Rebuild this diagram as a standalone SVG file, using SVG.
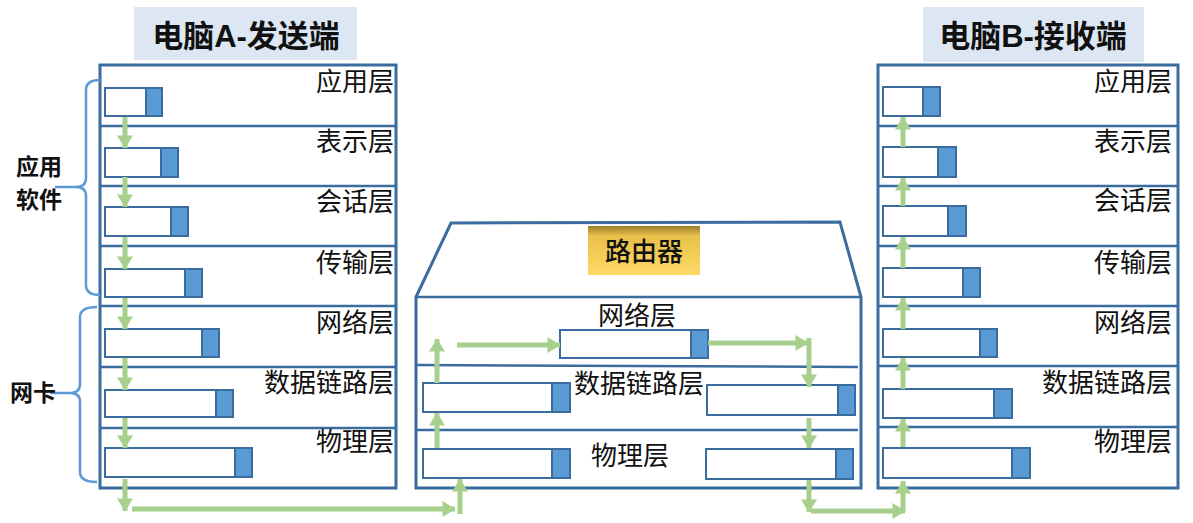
<svg xmlns="http://www.w3.org/2000/svg" width="1193" height="523" viewBox="0 0 1193 523">
<style>
.frame{fill:#fff;stroke:#3b6c9e;stroke-width:3}
.div{stroke:#3b6c9e;stroke-width:2.5;fill:none}
.pw{fill:#fff;stroke:#3b6c9e;stroke-width:2}
.pb{fill:#5b9bd5;stroke:#3b6c9e;stroke-width:2}
.title{fill:#dce7f3}
.tt{font-family:"Liberation Sans","Noto Sans CJK SC",sans-serif;font-weight:bold;font-size:31px;fill:#111}
.lbl{font-family:"Noto Sans CJK SC",sans-serif;font-size:26px;fill:#111}
.side{font-family:"Noto Sans CJK SC",sans-serif;font-weight:bold;font-size:23px;fill:#111}
.brace{fill:none;stroke:#5b9bd5;stroke-width:2.5}
.ar{fill:none;stroke:#a6d08b;stroke-width:5;marker-end:url(#ah)}
</style>
<defs>
<marker id="ah" markerUnits="userSpaceOnUse" markerWidth="16" markerHeight="16" viewBox="0 0 13 16" refX="12.5" refY="8" orient="auto">
<path d="M0,0 L13,8 L0,16 z" fill="#a6d08b"/>
</marker>
<linearGradient id="gold" x1="0" y1="0" x2="0" y2="1">
<stop offset="0" stop-color="#9c7d2c"/>
<stop offset="0.2" stop-color="#e8c04a"/>
<stop offset="1" stop-color="#ffd966"/>
</linearGradient>
</defs>

<g id="computerA">
<rect class="title" x="134" y="7" width="223" height="53"/>
<text class="tt" x="246" y="47" text-anchor="middle">电脑A-发送端</text>
<rect class="frame" x="100" y="65" width="296" height="423"/>
<path class="div" d="M100,126H396M100,186H396M100,246H396M100,306H396M100,367H396M100,428H396"/>
<g class="lbl" text-anchor="end">
<text x="394" y="91">应用层</text>
<text x="394" y="151">表示层</text>
<text x="394" y="211">会话层</text>
<text x="394" y="272">传输层</text>
<text x="394" y="332">网络层</text>
<text x="394" y="392">数据链路层</text>
<text x="394" y="451">物理层</text>
</g>
<rect class="pw" x="105" y="88" width="41" height="28"/><rect class="pb" x="146" y="88" width="16" height="28"/>
<rect class="pw" x="105" y="148" width="56" height="29"/><rect class="pb" x="161" y="148" width="17" height="29"/>
<rect class="pw" x="105" y="207" width="66" height="29"/><rect class="pb" x="171" y="207" width="17" height="29"/>
<rect class="pw" x="105" y="269" width="80" height="28"/><rect class="pb" x="185" y="269" width="17" height="28"/>
<rect class="pw" x="105" y="329" width="97" height="28"/><rect class="pb" x="202" y="329" width="17" height="28"/>
<rect class="pw" x="105" y="390" width="111" height="27"/><rect class="pb" x="216" y="390" width="17" height="27"/>
<rect class="pw" x="105" y="448" width="130" height="29"/><rect class="pb" x="235" y="448" width="17" height="29"/>
</g>

<g id="labelsLeft">
<path class="brace" d="M100,80 Q86,80 86,90 L86,178 Q86,187 76,187 L55,187 M76,187 Q86,187 86,196 L86,285 Q86,295 100,295"/>
<text class="side" x="16" y="175">应用</text>
<text class="side" x="16" y="208">软件</text>
<path class="brace" d="M97,307 Q80,307 80,317 L80,384 Q80,393 70,393 L50,393 M70,393 Q80,393 80,402 L80,472 Q80,482 97,482"/>
<text class="side" x="10" y="401">网卡</text>
</g>

<g id="router">
<path class="frame" d="M416,297 L451,223 L840,222 L861,297 L861,488 L416,488 Z"/>
<path class="div" d="M416,297H861M416,365L858,367M416,430H858"/>
<rect x="588" y="226" width="112" height="49" fill="url(#gold)"/>
<text x="644" y="261" text-anchor="middle" font-family="Noto Sans CJK SC,sans-serif" font-weight="500" font-size="26" fill="#111">路由器</text>
<g class="lbl" text-anchor="middle">
<text x="637" y="325">网络层</text>
<text x="639" y="393">数据链路层</text>
<text x="630" y="465">物理层</text>
</g>
<rect class="pw" x="560" y="330" width="131" height="28"/><rect class="pb" x="691" y="330" width="17" height="28"/>
<rect class="pw" x="423" y="383" width="129" height="29"/><rect class="pb" x="552" y="383" width="18" height="29"/>
<rect class="pw" x="707" y="385" width="131" height="30"/><rect class="pb" x="838" y="385" width="17" height="30"/>
<rect class="pw" x="423" y="449" width="129" height="29"/><rect class="pb" x="552" y="449" width="18" height="29"/>
<rect class="pw" x="706" y="449" width="130" height="30"/><rect class="pb" x="836" y="449" width="17" height="30"/>
</g>

<g id="computerB">
<rect class="title" x="923" y="7" width="221" height="55"/>
<text class="tt" x="1033" y="47" text-anchor="middle">电脑B-接收端</text>
<rect class="frame" x="878" y="65" width="300" height="423"/>
<path class="div" d="M878,126H1178M878,186H1178M878,246H1178M878,306H1178M878,366H1178M878,427H1178"/>
<g class="lbl" text-anchor="end">
<text x="1172" y="91">应用层</text>
<text x="1172" y="151">表示层</text>
<text x="1172" y="210">会话层</text>
<text x="1172" y="272">传输层</text>
<text x="1172" y="332">网络层</text>
<text x="1172" y="392">数据链路层</text>
<text x="1172" y="451">物理层</text>
</g>
<rect class="pw" x="883" y="87" width="40" height="29"/><rect class="pb" x="923" y="87" width="17" height="29"/>
<rect class="pw" x="883" y="147" width="55" height="30"/><rect class="pb" x="938" y="147" width="18" height="30"/>
<rect class="pw" x="883" y="206" width="65" height="30"/><rect class="pb" x="948" y="206" width="18" height="30"/>
<rect class="pw" x="883" y="268" width="80" height="29"/><rect class="pb" x="963" y="268" width="17" height="29"/>
<rect class="pw" x="883" y="329" width="97" height="28"/><rect class="pb" x="980" y="329" width="17" height="28"/>
<rect class="pw" x="883" y="389" width="111" height="29"/><rect class="pb" x="994" y="389" width="18" height="29"/>
<rect class="pw" x="883" y="448" width="129" height="30"/><rect class="pb" x="1012" y="448" width="18" height="30"/>
</g>

<g id="connectors">
<path class="ar" d="M125,117V148"/>
<path class="ar" d="M125,177V207"/>
<path class="ar" d="M125,237V269"/>
<path class="ar" d="M125,298V329"/>
<path class="ar" d="M125,358V390"/>
<path class="ar" d="M125,418V448"/>
<path class="ar" d="M125,479V511"/>
<path class="ar" d="M132,509H455"/>
<path class="ar" d="M460,514V479"/>
<path class="ar" d="M437,448V413"/>
<path class="ar" d="M437,383V339"/>
<path class="ar" d="M457,345H560"/>
<path class="ar" d="M708,343H808"/>
<path class="ar" d="M809,338V387"/>
<path class="ar" d="M809,418V448"/>
<path class="ar" d="M809,480V512"/>
<path class="ar" d="M811,511H905"/>
<path class="ar" d="M903,512V481"/>
<path class="ar" d="M903,447V419"/>
<path class="ar" d="M903,389V358"/>
<path class="ar" d="M903,329V298"/>
<path class="ar" d="M903,268V237"/>
<path class="ar" d="M903,206V178"/>
<path class="ar" d="M903,147V117"/>
</g>
</svg>
